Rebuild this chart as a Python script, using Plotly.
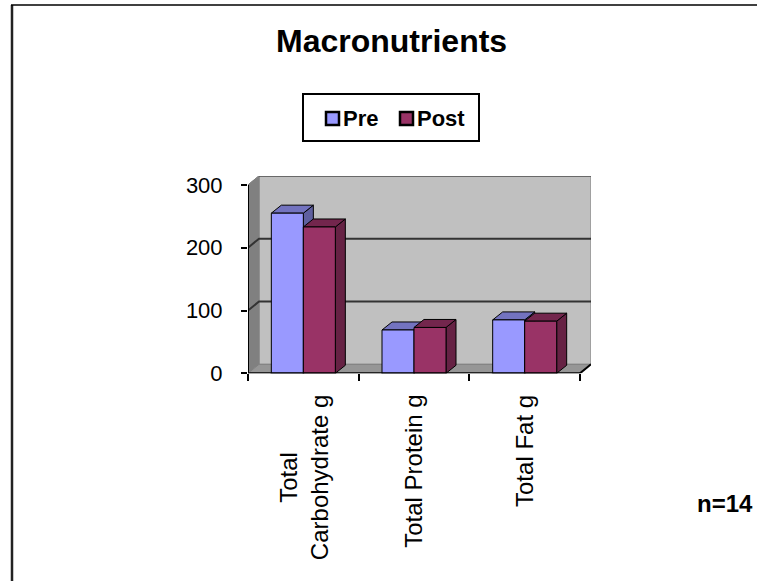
import plotly.graph_objects as go

categories = ["Total<br>Carbohydrate g", "Total Protein g", "Total Fat g"]
series_names = ["Pre", "Post"]
pre_values = [255, 69, 85]
post_values = [233, 73, 83]
y_ticks = [0, 100, 200, 300]
title_text = "Macronutrients"
note_text = "n=14"

PRE, PRE_TOP, PRE_SIDE = "#9999FF", "#7373BF", "#5F5F9F"
POST, POST_TOP, POST_SIDE = "#993366", "#73264D", "#662244"
W, H = 757, 581
L, R, T, B = 248, 591, 176, 373.3
UX = 110.67          # px per category
UY = 0.628           # px per value unit
DX, DY = 11 / UX, 9 / UY
BW = 32 / UX
BAR_DEPTH_X, BAR_DEPTH_Y = 10 / UX, 8 / UY

fig = go.Figure()
centers = [i + 0.5 for i in range(len(categories))]


def poly(xs, ys, fill, line="black", lw=1):
    fig.add_trace(go.Scatter(x=xs + xs[:1], y=ys + ys[:1], mode="lines", fill="toself",
                             fillcolor=fill, line=dict(color=line, width=lw),
                             showlegend=False, hoverinfo="skip"))


def seg(xs, ys, color="#333333", lw=1.5):
    fig.add_trace(go.Scatter(x=xs, y=ys, mode="lines", line=dict(color=color, width=lw),
                             showlegend=False, hoverinfo="skip"))


n = len(categories)
top = y_ticks[-1]
# real bars (front faces)
fig.add_trace(go.Bar(name=series_names[0], x=centers, y=pre_values, width=BW, offset=-BW, showlegend=False,
                     marker=dict(color=PRE, line=dict(color="black", width=2))))
fig.add_trace(go.Bar(name=series_names[1], x=centers, y=post_values, width=BW, offset=0, showlegend=False,
                     marker=dict(color=POST, line=dict(color="black", width=2))))

# walls and floor
poly([DX, n + DX, n + DX, DX], [DY, DY, top + DY, top + DY], "#C0C0C0", "#808080", 1)
poly([0, DX, DX, 0], [0, DY, top + DY, top], "#808080", "#808080", 1)
poly([0, n, n + DX, DX], [0, 0, DY, DY], "#969696", "#808080", 1)
seg([DX, n + DX], [top + DY, top + DY], "#555555", 1.5)
for v in y_ticks[1:-1]:
    seg([0, DX, n + DX], [v, v + DY, v + DY], "#333333", 2)
seg([0, DX], [top, top + DY], "#808080", 1)

# 3D bar faces, drawn back to front so each bar covers its neighbour's side
for c, a, b in zip(centers, pre_values, post_values):
    for x0, v, front, tc, sc in ((c - BW, a, PRE, PRE_TOP, PRE_SIDE), (c, b, POST, POST_TOP, POST_SIDE)):
        x1 = x0 + BW
        poly([x1, x1 + BAR_DEPTH_X, x1 + BAR_DEPTH_X, x1], [0, BAR_DEPTH_Y, v + BAR_DEPTH_Y, v], sc)
        poly([x0, x0 + BAR_DEPTH_X, x1 + BAR_DEPTH_X, x1], [v, v + BAR_DEPTH_Y, v + BAR_DEPTH_Y, v], tc)
        poly([x0, x1, x1, x0], [0, 0, v, v], front)

# axis line
seg([0, 0], [0, top], "black", 2)
seg([0, n], [0, 0], "black", 2)
seg([n, n + DX], [0, DY], "black", 2)

annotations = [dict(x=c, y=0, xref="x", yref="y", yanchor="top", xanchor="center", yshift=-20,
                    text=t, textangle=-90, showarrow=False, align="center",
                    font=dict(family="Liberation Sans", size=24, color="black"))
               for c, t in zip(centers, categories)]
annotations += [
    dict(x=391 / W, y=1 - 41 / H, xref="paper", yref="paper", xanchor="center", yanchor="middle",
         text=title_text, showarrow=False,
         font=dict(family="Liberation Sans", size=32, color="black", weight="bold")),
    dict(x=725 / W, y=1 - 503 / H, xref="paper", yref="paper", xanchor="center", yanchor="middle",
         text=note_text, showarrow=False,
         font=dict(family="Liberation Sans", size=24, color="black", weight="bold")),
]
# legend entries
legend_shapes = []
for name, color, swatch_x, text_x in zip(series_names, (PRE, POST), (326, 400), (343, 417)):
    annotations.append(dict(x=text_x / W, y=1 - 118 / H, xref="paper", yref="paper", xanchor="left",
                            yanchor="middle", xshift=-2, text=name, showarrow=False,
                            font=dict(family="Liberation Sans", size=22, color="black", weight="bold")))
    legend_shapes.append(dict(type="rect", xref="paper", yref="paper", x0=swatch_x / W, x1=(swatch_x + 13) / W,
                              y0=1 - 125 / H, y1=1 - 112 / H, fillcolor=color, line=dict(color="black", width=2.5)))

fig.update_layout(
    width=W, height=H, autosize=False, paper_bgcolor="white", plot_bgcolor="white",
    margin=dict(l=0, r=0, t=0, b=0, pad=0, autoexpand=False), barmode="overlay",
    xaxis=dict(domain=[L / W, R / W], range=[0, (R - L) / UX], showgrid=False, zeroline=False,
               tickvals=list(range(n + 1)), ticktext=[""] * (n + 1), ticks="outside", ticklen=7,
               tickwidth=2, tickcolor="black"),
    yaxis=dict(domain=[1 - B / H, 1 - T / H], range=[0, (B - T) / UY], showgrid=False, zeroline=False,
               tickvals=y_ticks, ticks="outside", ticklen=6, tickwidth=2, tickcolor="black",
               ticklabelstandoff=14,
               tickfont=dict(family="Liberation Sans", size=22, color="black")),
    showlegend=False,
    annotations=annotations,
    shapes=legend_shapes + [
        dict(type="rect", xref="paper", yref="paper", x0=303 / W, x1=479 / W, y0=1 - 141 / H, y1=1 - 94 / H,
             line=dict(color="black", width=2)),
        dict(type="line", xref="paper", yref="paper", x0=12 / W, x1=12 / W, y0=0, y1=1 - 5 / H,
             line=dict(color="#222222", width=2.5)),
        dict(type="line", xref="paper", yref="paper", x0=11 / W, x1=1, y0=1 - 5 / H, y1=1 - 5 / H,
             line=dict(color="black", width=1.5)),
    ],
)
fig.write_html("out.html", config={"displayModeBar": False}, default_width=W, default_height=H,
               post_script="document.body.style.margin='0';")
